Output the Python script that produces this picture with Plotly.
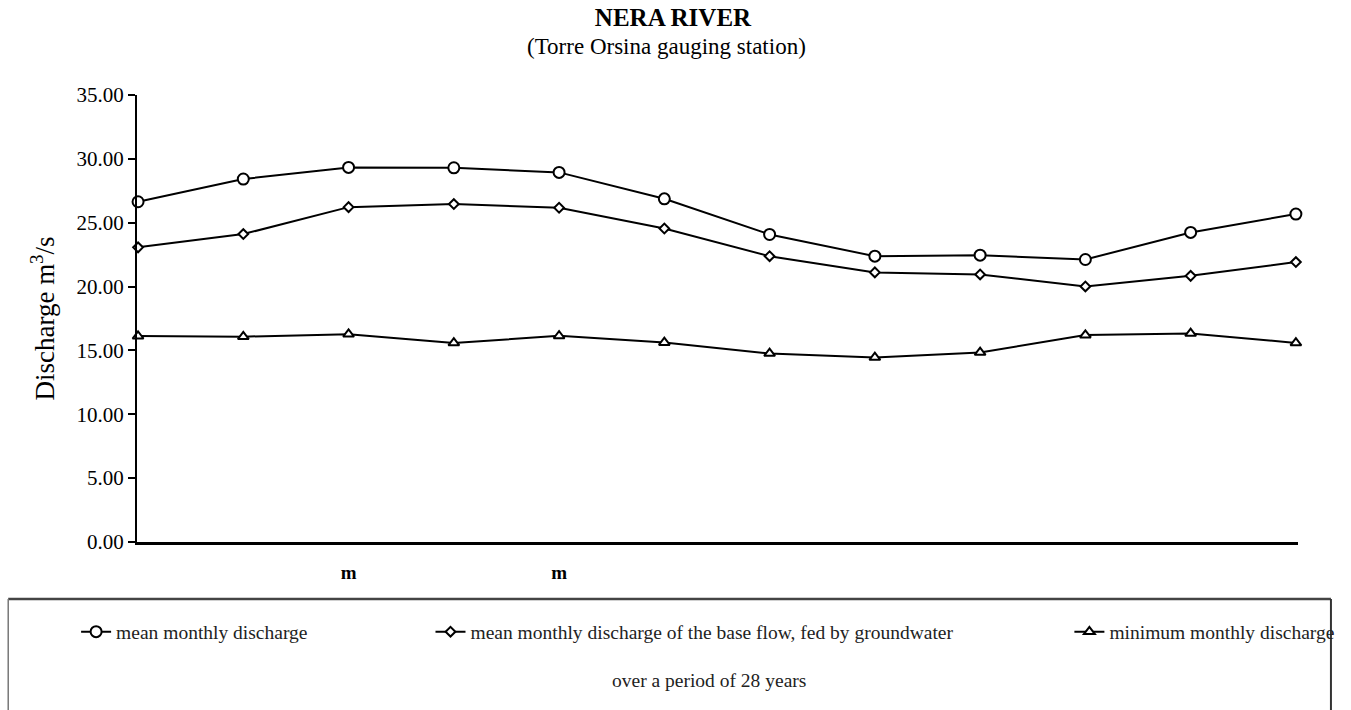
import plotly.graph_objects as go

# Monthly discharge of the Nera River at Torre Orsina (m3/s), 12 months
month_index = list(range(12))
tick_labels = ["", "", "m", "", "m", "", "", "", "", "", "", ""]

mean_monthly = [26.64, 28.42, 29.33, 29.30, 28.94, 26.87, 24.08, 22.38, 22.46, 22.12, 24.24, 25.68]
base_flow = [23.07, 24.11, 26.22, 26.46, 26.17, 24.55, 22.38, 21.11, 20.95, 20.01, 20.84, 21.92]
minimum_monthly = [16.12, 16.08, 16.27, 15.59, 16.14, 15.62, 14.76, 14.45, 14.84, 16.20, 16.33, 15.59]

series_names = [
    "mean monthly discharge",
    "mean monthly discharge of the base flow, fed by groundwater",
    "minimum monthly discharge",
]
footnote = "over a period of 28 years"

SERIF = "Liberation Serif"
W, H = 1351, 710
L, R, T, B = 137, 51, 95, 168
PLOT_W = W - L - R
PLOT_H = H - T - B


def px_x(px):
    return (px - L) / PLOT_W


def px_y(py):
    return (H - B - py) / PLOT_H


# only months that carry a label get a tick
labelled = [(i, t) for i, t in zip(month_index, tick_labels) if t]

fig = go.Figure()

styles = [
    (mean_monthly, "circle", 11, "legend"),
    (base_flow, "diamond", 7.5, "legend2"),
    (minimum_monthly, "triangle-up", 9.5, "legend3"),
]
for (values, symbol, size, leg), name in zip(styles, series_names):
    fig.add_trace(go.Scatter(
        x=month_index, y=values, name=name, mode="lines+markers",
        line=dict(color="black", width=2),
        marker=dict(symbol=symbol, size=size, color="white",
                    line=dict(color="black", width=2)),
        cliponaxis=False, legend=leg, showlegend=True,
    ))

legend_common = dict(
    orientation="h", yanchor="middle", xanchor="left",
    bgcolor="rgba(0,0,0,0)", borderwidth=0, visible=True,
    font=dict(family=SERIF, size=19.5, color="#222"),
)
fig.update_layout(
    showlegend=True,
    legend=dict(x=px_x(76), y=px_y(632), **legend_common),
    legend2=dict(x=px_x(431), y=px_y(632), **legend_common),
    legend3=dict(x=px_x(1071), y=px_y(632), **legend_common),
)

fig.update_layout(
    width=W, height=H,
    margin=dict(l=L, r=R, t=T, b=B, pad=0),
    paper_bgcolor="white", plot_bgcolor="white",
    font=dict(family=SERIF, color="black"),
    title=dict(
        text="<b>NERA RIVER</b>", x=673 / W, xanchor="center",
        y=1 - 17 / H, yanchor="middle", yref="container",
        font=dict(family=SERIF, size=25, color="black"),
    ),
    xaxis=dict(
        range=[-0.01, 11.02], showgrid=False, zeroline=False,
        showline=True, linecolor="black", linewidth=2.5,
        tickmode="array",
        tickvals=[i for i, _ in labelled], ticktext=[t for _, t in labelled],
        ticks="", ticklabelstandoff=11,
        tickfont=dict(family=SERIF, size=19, color="black", weight=700),
    ),
    yaxis=dict(
        range=[0, 35], showgrid=False, zeroline=False,
        showline=True, linecolor="black", linewidth=2,
        tickmode="linear", tick0=0, dtick=5, tickformat=".2f",
        ticks="outside", ticklen=7, tickwidth=2, tickcolor="black",
        tickfont=dict(family=SERIF, size=21, color="black"),
        title=dict(text="Discharge m<sup>3</sup>/s", standoff=14,
                   font=dict(family=SERIF, size=27, color="black")),
    ),
)

# subtitle and footnote
fig.add_annotation(
    text="(Torre Orsina gauging station)", xref="paper", yref="paper",
    x=px_x(667), y=px_y(47), xanchor="center", yanchor="middle",
    showarrow=False, font=dict(family=SERIF, size=23, color="black"),
)
fig.add_annotation(
    text=footnote, xref="paper", yref="paper",
    x=px_x(710), y=px_y(680), xanchor="center", yanchor="middle",
    showarrow=False, font=dict(family=SERIF, size=19.5, color="#222"),
)

# legend frame
fig.add_shape(
    type="line", xref="paper", yref="paper",
    x0=px_x(8), x1=px_x(1333), y0=px_y(599), y1=px_y(599),
    line=dict(color="#444", width=2.5),
)
fig.add_shape(
    type="line", xref="paper", yref="paper",
    x0=px_x(1333), x1=px_x(1333), y0=px_y(599), y1=px_y(715),
    line=dict(color="#333", width=2),
)
fig.add_shape(
    type="line", xref="paper", yref="paper",
    x0=px_x(8), x1=px_x(8), y0=px_y(599), y1=px_y(715),
    line=dict(color="#777", width=1.5),
)

fig.write_html("out.html")
